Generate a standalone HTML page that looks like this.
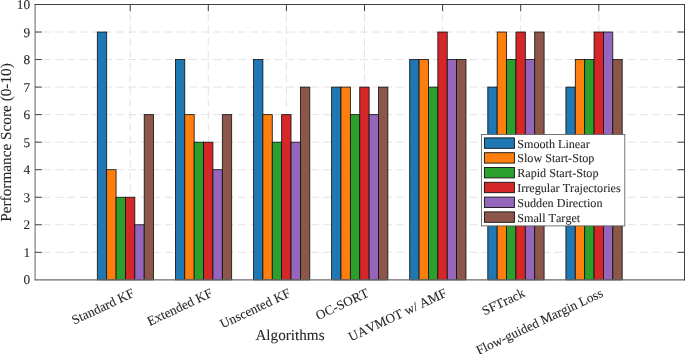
<!DOCTYPE html><html><head><meta charset="utf-8"><style>html,body{margin:0;padding:0;background:#fff;}svg{display:block;will-change:transform;}text{font-family:"Liberation Serif",serif;fill:#262626;font-kerning:none;text-rendering:geometricPrecision;stroke:#262626;stroke-width:0.08px;}</style></head><body>
<svg width="685" height="354" viewBox="0 0 685 354">
<rect x="0" y="0" width="685" height="354" fill="#ffffff"/>
<g stroke="#dcdcdc" stroke-width="0.8" fill="none">
<line x1="35.1" y1="252.32" x2="684.5" y2="252.32" stroke-dasharray="8 4.18" stroke-dashoffset="4.3"/>
<line x1="35.1" y1="224.78" x2="684.5" y2="224.78" stroke-dasharray="8 4.18" stroke-dashoffset="4.3"/>
<line x1="35.1" y1="197.25" x2="684.5" y2="197.25" stroke-dasharray="8 4.18" stroke-dashoffset="4.3"/>
<line x1="35.1" y1="169.71" x2="684.5" y2="169.71" stroke-dasharray="8 4.18" stroke-dashoffset="4.3"/>
<line x1="35.1" y1="142.18" x2="684.5" y2="142.18" stroke-dasharray="8 4.18" stroke-dashoffset="4.3"/>
<line x1="35.1" y1="114.64" x2="684.5" y2="114.64" stroke-dasharray="8 4.18" stroke-dashoffset="4.3"/>
<line x1="35.1" y1="87.10" x2="684.5" y2="87.10" stroke-dasharray="8 4.18" stroke-dashoffset="4.3"/>
<line x1="35.1" y1="59.57" x2="684.5" y2="59.57" stroke-dasharray="8 4.18" stroke-dashoffset="4.3"/>
<line x1="35.1" y1="32.03" x2="684.5" y2="32.03" stroke-dasharray="8 4.18" stroke-dashoffset="4.3"/>
<line x1="130.20" y1="4.5" x2="130.20" y2="279.85" stroke-dasharray="8 4.18" stroke-dashoffset="3.1"/>
<line x1="208.30" y1="4.5" x2="208.30" y2="279.85" stroke-dasharray="8 4.18" stroke-dashoffset="3.1"/>
<line x1="286.40" y1="4.5" x2="286.40" y2="279.85" stroke-dasharray="8 4.18" stroke-dashoffset="3.1"/>
<line x1="364.50" y1="4.5" x2="364.50" y2="279.85" stroke-dasharray="8 4.18" stroke-dashoffset="3.1"/>
<line x1="442.60" y1="4.5" x2="442.60" y2="279.85" stroke-dasharray="8 4.18" stroke-dashoffset="3.1"/>
<line x1="520.70" y1="4.5" x2="520.70" y2="279.85" stroke-dasharray="8 4.18" stroke-dashoffset="3.1"/>
<line x1="598.80" y1="4.5" x2="598.80" y2="279.85" stroke-dasharray="8 4.18" stroke-dashoffset="3.1"/>
</g>
<g stroke="#0d0d0d" stroke-width="0.8">
<rect x="97.31" y="32.03" width="9.38" height="247.82" fill="#1f77b4"/>
<rect x="106.69" y="169.71" width="9.38" height="110.14" fill="#ff7f0e"/>
<rect x="116.07" y="197.25" width="9.38" height="82.61" fill="#2ca02c"/>
<rect x="125.45" y="197.25" width="9.38" height="82.61" fill="#d62728"/>
<rect x="134.83" y="224.78" width="9.38" height="55.07" fill="#9467bd"/>
<rect x="144.21" y="114.64" width="9.38" height="165.21" fill="#8c564b"/>
<rect x="175.41" y="59.57" width="9.38" height="220.28" fill="#1f77b4"/>
<rect x="184.79" y="114.64" width="9.38" height="165.21" fill="#ff7f0e"/>
<rect x="194.17" y="142.18" width="9.38" height="137.68" fill="#2ca02c"/>
<rect x="203.55" y="142.18" width="9.38" height="137.68" fill="#d62728"/>
<rect x="212.93" y="169.71" width="9.38" height="110.14" fill="#9467bd"/>
<rect x="222.31" y="114.64" width="9.38" height="165.21" fill="#8c564b"/>
<rect x="253.51" y="59.57" width="9.38" height="220.28" fill="#1f77b4"/>
<rect x="262.89" y="114.64" width="9.38" height="165.21" fill="#ff7f0e"/>
<rect x="272.27" y="142.18" width="9.38" height="137.68" fill="#2ca02c"/>
<rect x="281.65" y="114.64" width="9.38" height="165.21" fill="#d62728"/>
<rect x="291.03" y="142.18" width="9.38" height="137.68" fill="#9467bd"/>
<rect x="300.41" y="87.10" width="9.38" height="192.75" fill="#8c564b"/>
<rect x="331.61" y="87.10" width="9.38" height="192.75" fill="#1f77b4"/>
<rect x="340.99" y="87.10" width="9.38" height="192.75" fill="#ff7f0e"/>
<rect x="350.37" y="114.64" width="9.38" height="165.21" fill="#2ca02c"/>
<rect x="359.75" y="87.10" width="9.38" height="192.75" fill="#d62728"/>
<rect x="369.13" y="114.64" width="9.38" height="165.21" fill="#9467bd"/>
<rect x="378.51" y="87.10" width="9.38" height="192.75" fill="#8c564b"/>
<rect x="409.71" y="59.57" width="9.38" height="220.28" fill="#1f77b4"/>
<rect x="419.09" y="59.57" width="9.38" height="220.28" fill="#ff7f0e"/>
<rect x="428.47" y="87.10" width="9.38" height="192.75" fill="#2ca02c"/>
<rect x="437.85" y="32.03" width="9.38" height="247.82" fill="#d62728"/>
<rect x="447.23" y="59.57" width="9.38" height="220.28" fill="#9467bd"/>
<rect x="456.61" y="59.57" width="9.38" height="220.28" fill="#8c564b"/>
<rect x="487.81" y="87.10" width="9.38" height="192.75" fill="#1f77b4"/>
<rect x="497.19" y="32.03" width="9.38" height="247.82" fill="#ff7f0e"/>
<rect x="506.57" y="59.57" width="9.38" height="220.28" fill="#2ca02c"/>
<rect x="515.95" y="32.03" width="9.38" height="247.82" fill="#d62728"/>
<rect x="525.33" y="59.57" width="9.38" height="220.28" fill="#9467bd"/>
<rect x="534.71" y="32.03" width="9.38" height="247.82" fill="#8c564b"/>
<rect x="565.91" y="87.10" width="9.38" height="192.75" fill="#1f77b4"/>
<rect x="575.29" y="59.57" width="9.38" height="220.28" fill="#ff7f0e"/>
<rect x="584.67" y="59.57" width="9.38" height="220.28" fill="#2ca02c"/>
<rect x="594.05" y="32.03" width="9.38" height="247.82" fill="#d62728"/>
<rect x="603.43" y="32.03" width="9.38" height="247.82" fill="#9467bd"/>
<rect x="612.81" y="59.57" width="9.38" height="220.28" fill="#8c564b"/>
</g>
<g stroke-width="1" fill="none">
<line x1="35.1" y1="4.0" x2="35.1" y2="280.35" stroke="#6a6a6a" stroke-width="1.05"/>
<line x1="34.6" y1="279.85" x2="685.0" y2="279.85" stroke="#6a6a6a" stroke-width="1.05"/>
<line x1="34.6" y1="4.5" x2="685.0" y2="4.5" stroke="#404040"/>
<line x1="684.5" y1="4.0" x2="684.5" y2="280.35" stroke="#404040"/>
</g>
<g stroke="#404040" stroke-width="1">
<line x1="35.1" y1="252.32" x2="41.9" y2="252.32"/>
<line x1="684.5" y1="252.32" x2="677.7" y2="252.32"/>
<line x1="35.1" y1="224.78" x2="41.9" y2="224.78"/>
<line x1="684.5" y1="224.78" x2="677.7" y2="224.78"/>
<line x1="35.1" y1="197.25" x2="41.9" y2="197.25"/>
<line x1="684.5" y1="197.25" x2="677.7" y2="197.25"/>
<line x1="35.1" y1="169.71" x2="41.9" y2="169.71"/>
<line x1="684.5" y1="169.71" x2="677.7" y2="169.71"/>
<line x1="35.1" y1="142.18" x2="41.9" y2="142.18"/>
<line x1="684.5" y1="142.18" x2="677.7" y2="142.18"/>
<line x1="35.1" y1="114.64" x2="41.9" y2="114.64"/>
<line x1="684.5" y1="114.64" x2="677.7" y2="114.64"/>
<line x1="35.1" y1="87.10" x2="41.9" y2="87.10"/>
<line x1="684.5" y1="87.10" x2="677.7" y2="87.10"/>
<line x1="35.1" y1="59.57" x2="41.9" y2="59.57"/>
<line x1="684.5" y1="59.57" x2="677.7" y2="59.57"/>
<line x1="35.1" y1="32.03" x2="41.9" y2="32.03"/>
<line x1="684.5" y1="32.03" x2="677.7" y2="32.03"/>
<line x1="130.20" y1="4.5" x2="130.20" y2="11.3"/>
<line x1="208.30" y1="4.5" x2="208.30" y2="11.3"/>
<line x1="286.40" y1="4.5" x2="286.40" y2="11.3"/>
<line x1="364.50" y1="4.5" x2="364.50" y2="11.3"/>
<line x1="442.60" y1="4.5" x2="442.60" y2="11.3"/>
<line x1="520.70" y1="4.5" x2="520.70" y2="11.3"/>
<line x1="598.80" y1="4.5" x2="598.80" y2="11.3"/>
</g>
<text x="30.1" y="284.35" font-size="13.33" text-anchor="end">0</text>
<text x="30.1" y="256.82" font-size="13.33" text-anchor="end">1</text>
<text x="30.1" y="229.28" font-size="13.33" text-anchor="end">2</text>
<text x="30.1" y="201.75" font-size="13.33" text-anchor="end">3</text>
<text x="30.1" y="174.21" font-size="13.33" text-anchor="end">4</text>
<text x="30.1" y="146.68" font-size="13.33" text-anchor="end">5</text>
<text x="30.1" y="119.14" font-size="13.33" text-anchor="end">6</text>
<text x="30.1" y="91.60" font-size="13.33" text-anchor="end">7</text>
<text x="30.1" y="64.07" font-size="13.33" text-anchor="end">8</text>
<text x="30.1" y="36.53" font-size="13.33" text-anchor="end">9</text>
<text x="30.1" y="9.00" font-size="13.33" text-anchor="end">10</text>
<text transform="translate(135.30,296.05) rotate(-25.2)" font-size="13.25" text-anchor="end">Standard KF</text>
<text transform="translate(213.40,296.05) rotate(-25.2)" font-size="13.25" text-anchor="end">Extended KF</text>
<text transform="translate(291.50,296.05) rotate(-25.2)" font-size="13.25" text-anchor="end">Unscented KF</text>
<text transform="translate(369.60,296.05) rotate(-25.2)" font-size="13.25" text-anchor="end">OC-SORT</text>
<text transform="translate(447.70,296.05) rotate(-25.2)" font-size="13.25" text-anchor="end">UAVMOT w/ AMF</text>
<text transform="translate(525.80,296.05) rotate(-25.2)" font-size="13.25" text-anchor="end">SFTrack</text>
<text transform="translate(603.90,296.05) rotate(-25.2)" font-size="13.25" text-anchor="end">Flow-guided Margin Loss</text>
<text x="290.0" y="340.3" font-size="15.2" text-anchor="middle">Algorithms</text>
<text transform="translate(10.6,142.48) rotate(-90)" font-size="15.27" text-anchor="middle">Performance Score (0-10)</text>
<rect x="481.5" y="134.4" width="143.3" height="91.5" fill="#ffffff" stroke="#555" stroke-width="0.8"/>
<rect x="484.4" y="137.90" width="30" height="10.4" fill="#1f77b4" stroke="#111" stroke-width="0.9"/>
<text x="517.2" y="147.50" font-size="12.15" fill="#111" stroke="#111" stroke-width="0.15">Smooth Linear</text>
<rect x="484.4" y="152.70" width="30" height="10.4" fill="#ff7f0e" stroke="#111" stroke-width="0.9"/>
<text x="517.2" y="162.30" font-size="12.15" fill="#111" stroke="#111" stroke-width="0.15">Slow Start-Stop</text>
<rect x="484.4" y="167.50" width="30" height="10.4" fill="#2ca02c" stroke="#111" stroke-width="0.9"/>
<text x="517.2" y="177.10" font-size="12.15" fill="#111" stroke="#111" stroke-width="0.15">Rapid Start-Stop</text>
<rect x="484.4" y="182.30" width="30" height="10.4" fill="#d62728" stroke="#111" stroke-width="0.9"/>
<text x="517.2" y="191.90" font-size="12.15" fill="#111" stroke="#111" stroke-width="0.15">Irregular Trajectories</text>
<rect x="484.4" y="197.10" width="30" height="10.4" fill="#9467bd" stroke="#111" stroke-width="0.9"/>
<text x="517.2" y="206.70" font-size="12.15" fill="#111" stroke="#111" stroke-width="0.15">Sudden Direction</text>
<rect x="484.4" y="211.90" width="30" height="10.4" fill="#8c564b" stroke="#111" stroke-width="0.9"/>
<text x="517.2" y="221.50" font-size="12.15" fill="#111" stroke="#111" stroke-width="0.15">Small Target</text>
</svg></body></html>
